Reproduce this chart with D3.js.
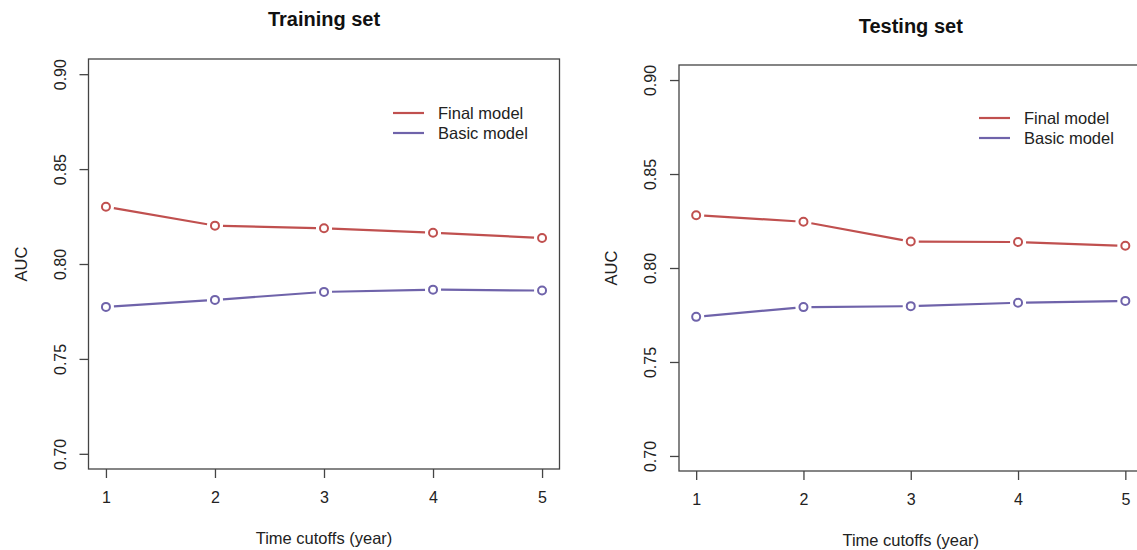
<!DOCTYPE html>
<html>
<head>
<meta charset="utf-8">
<script src="https://cdn.jsdelivr.net/npm/d3@7"></script>
<style>
  body { margin: 0; background: #fff; }
  svg { display: block; font-family: "Liberation Sans", Arial, Helvetica, sans-serif; }
  .axis path, .axis line { stroke: #444; stroke-width: 1.3; }
  .axis text { fill: #222; font-size: 16px; }
</style>
</head>
<body>
<svg id="chart" width="1137" height="550"></svg>
<script>
// data
var years = [1, 2, 3, 4, 5];
var yTicks = [0.70, 0.75, 0.80, 0.85, 0.90];
var seriesNames = ["Final model", "Basic model"];
var seriesColors = ["#c0504f", "#6f63aa"];
var trainFinal = [0.8302, 0.8202, 0.8188, 0.8165, 0.8137];
var trainBasic = [0.7774, 0.7811, 0.7853, 0.7865, 0.7860];
var testFinal = [0.8281, 0.8246, 0.8141, 0.8138, 0.8118];
var testBasic = [0.7740, 0.7792, 0.7797, 0.7815, 0.7825];

var svg = d3.select("#chart");

/*
  one R-style panel: box, axes, two lines with open points, legend
*/
function drawPanel(opt) {
  var g = svg.append("g");
  // R pads the limits by 4% each side
  var xPad = (5 - 1) * 0.04, yPad = (0.90 - 0.70) * 0.04;
  var x = d3.scaleLinear().domain([1 - xPad, 5 + xPad]).range([opt.left, opt.right]);
  var y = d3.scaleLinear().domain([0.70 - yPad, 0.90 + yPad]).range([opt.bottom, opt.top]);

  g.append("rect")
    .attr("x", opt.left).attr("y", opt.top)
    .attr("width", opt.right - opt.left).attr("height", opt.bottom - opt.top)
    .attr("fill", "none").attr("stroke", "#444").attr("stroke-width", 1.3);

  var xAxis = g.append("g").attr("class", "axis")
    .attr("transform", "translate(0," + opt.bottom + ")")
    .call(d3.axisBottom(x).tickValues(years).tickSize(9).tickSizeOuter(0).tickPadding(14).tickFormat(d3.format("d")));
  xAxis.select(".domain").remove();

  var yAxis = g.append("g").attr("class", "axis")
    .attr("transform", "translate(" + opt.left + ",0)")
    .call(d3.axisLeft(y).tickValues(yTicks).tickSize(9).tickSizeOuter(0).tickFormat(d3.format(".2f")));
  yAxis.select(".domain").remove();
  yAxis.selectAll(".tick text")
    .attr("x", 0)
    .attr("text-anchor", "middle")
    .attr("transform", "translate(-28.5,0) rotate(-90)")
    .attr("dy", "0.35em");

  g.append("text")
    .attr("x", (opt.left + opt.right) / 2).attr("y", opt.titleY)
    .attr("text-anchor", "middle").attr("font-weight", "bold").attr("font-size", 20)
    .attr("fill", "#111").text(opt.title);

  g.append("text")
    .attr("x", (opt.left + opt.right) / 2).attr("y", opt.bottom + 75)
    .attr("text-anchor", "middle").attr("font-size", 16.5).attr("fill", "#222")
    .text("Time cutoffs (year)");

  g.append("text")
    .attr("transform", "translate(" + (opt.left - 62) + "," + ((opt.top + opt.bottom) / 2) + ") rotate(-90)")
    .attr("text-anchor", "middle").attr("font-size", 16.5).attr("fill", "#222")
    .text("AUC");

  [opt.final, opt.basic].forEach(function(vals, si) {
    var col = seriesColors[si];
    var pts = vals.map(function(v, i) { return [x(years[i]), y(v)]; });
    // segments with a gap around each point, like type = "b"
    var gap = 8;
    for (var i = 0; i < pts.length - 1; i++) {
      var a = pts[i], b = pts[i + 1];
      var dx = b[0] - a[0], dy = b[1] - a[1], len = Math.sqrt(dx * dx + dy * dy);
      var ux = dx / len, uy = dy / len;
      g.append("line")
        .attr("x1", a[0] + ux * gap).attr("y1", a[1] + uy * gap)
        .attr("x2", b[0] - ux * gap).attr("y2", b[1] - uy * gap)
        .attr("stroke", col).attr("stroke-width", 2.2);
    }
    g.selectAll(null).data(pts).enter().append("circle")
      .attr("cx", function(d) { return d[0]; })
      .attr("cy", function(d) { return d[1]; })
      .attr("r", 4)
      .attr("fill", "#fff").attr("stroke", col).attr("stroke-width", 2);
  });

  var leg = g.append("g").attr("transform", "translate(" + opt.legX + "," + opt.legY + ")");
  seriesNames.forEach(function(name, i) {
    leg.append("line")
      .attr("x1", 0).attr("x2", 31).attr("y1", i * 20).attr("y2", i * 20)
      .attr("stroke", seriesColors[i]).attr("stroke-width", 2.2);
    leg.append("text")
      .attr("x", 45).attr("y", i * 20).attr("dy", "0.35em")
      .attr("font-size", 16.5).attr("fill", "#222").text(name);
  });
}

drawPanel({
  title: "Training set", final: trainFinal, basic: trainBasic,
  left: 88.5, right: 559.5, top: 59, bottom: 469,
  titleY: 26, legX: 393, legY: 113
});

drawPanel({
  title: "Testing set", final: testFinal, basic: testBasic,
  left: 679, right: 1142.5, top: 65, bottom: 471,
  titleY: 33, legX: 979, legY: 118
});
</script>
</body>
</html>
